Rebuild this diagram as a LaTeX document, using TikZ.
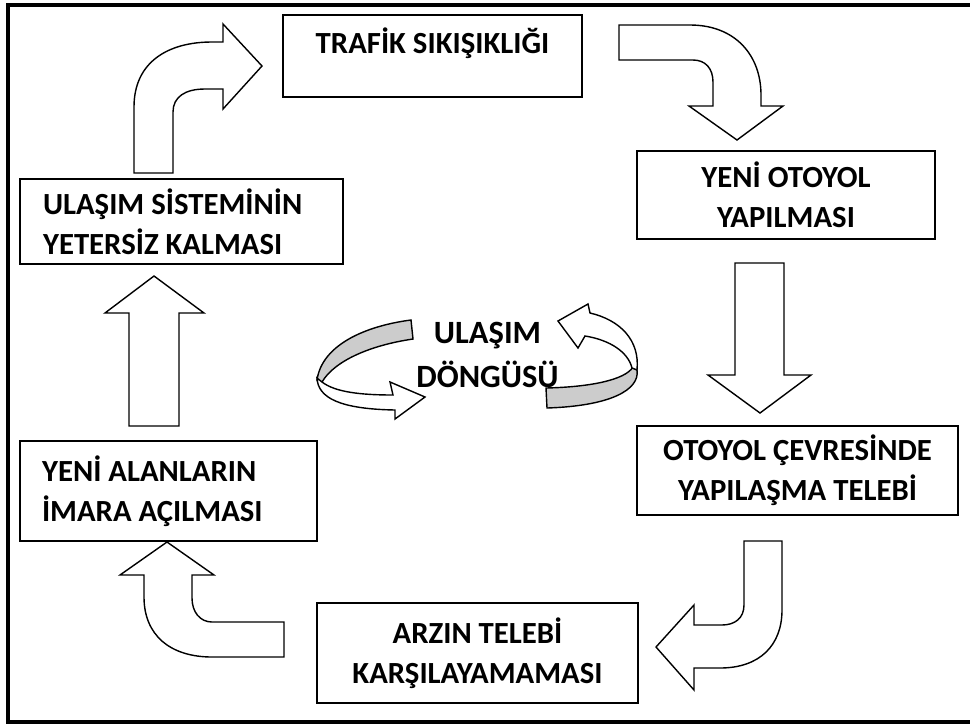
\documentclass[tikz,border=0pt]{standalone}
\usepackage{fontspec}
\setmainfont{Carlito}
\usetikzlibrary{calc}

\begin{document}
\begin{tikzpicture}[
    x=0.02cm, y=-0.02cm,
    box/.style={draw, line width=1.1pt, inner sep=0pt, font=\fontsize{17.5}{22.7}\selectfont\bfseries}, % Style for the text boxes
    bigarrow/.style={draw, fill=white, line width=0.8pt, line join=miter}, % Style for block arrows
    band/.style={draw, fill=black!20, line width=0.8pt} % Grey back side of the ribbons
]
\useasboundingbox (0,0) rectangle (970,724);

% Outer frame
\draw[line width=1.8pt] (8,5) rectangle (990,722);

% Boxes
\node[box, minimum width=5.98cm, minimum height=1.64cm, align=center, text height=12pt, text depth=15pt] (trafik) at (432.5,56) {TRAFİK SIKIŞIKLIĞI};
\node[box, minimum width=5.96cm, minimum height=1.76cm, align=center] (otoyol) at (786,195) {YENİ OTOYOL\\YAPILMASI};
\node[box, minimum width=6.42cm, minimum height=1.78cm, align=center] (cevre) at (797.5,470.5) {OTOYOL ÇEVRESİNDE\\YAPILAŞMA TELEBİ};
\node[box, minimum width=6.42cm, minimum height=2cm, align=center] (arz) at (477.5,653) {ARZIN TELEBİ\\KARŞILAYAMAMASI};
\node[box, minimum width=5.94cm, minimum height=2cm, inner xsep=0.44cm, text width=5.06cm, align=flush left] (alan) at (168.5,491) {YENİ ALANLARIN\\İMARA AÇILMASI};
\node[box, minimum width=6.46cm, minimum height=1.7cm, inner xsep=0.46cm, text width=5.54cm, align=flush left] (ulasim) at (181.5,221.5) {ULAŞIM SİSTEMİNİN\\YETERSİZ KALMASI};

% Block arrows round the cycle
\draw[bigarrow] (134,173) -- (134,107) .. controls (134,62) and (168,42) .. (212,42) -- (223,42) -- (223,24) -- (262,66)
    -- (223,109) -- (223,89) -- (205,89) .. controls (185,89) and (173,97) .. (173,112) -- (173,173) -- cycle;
\draw[bigarrow] (619,25) -- (690,25) .. controls (735,25) and (761,55) .. (761,95) -- (761,106) -- (783,106) -- (737,140)
    -- (689,106) -- (713,106) -- (713,82) .. controls (713,68) and (705,60) .. (693,60) -- (619,60) -- cycle;
\draw[bigarrow] (735,263) -- (784,263) -- (784,375) -- (811,375) -- (760,413) -- (708,375) -- (735,375) -- cycle;
\draw[bigarrow] (744,541) -- (782,541) -- (782,610) .. controls (782,645) and (760,668) .. (720,668) -- (694,668) -- (694,690)
    -- (656,647) -- (694,605) -- (694,625) -- (722,625) .. controls (735,625) and (744,618) .. (744,605) -- cycle;
\draw[bigarrow] (284,622) -- (212,622) .. controls (200,622) and (192,612) .. (192,598) -- (192,575) -- (214,575) -- (167,542)
    -- (120,575) -- (144,575) -- (144,597) .. controls (144,635) and (170,657) .. (212,657) -- (284,657) -- cycle;
\draw[bigarrow] (129,426) -- (129,313) -- (105,313) -- (154,276) -- (204,313) -- (179,313) -- (179,426) -- cycle;

% Ribbon arrows in the middle
\draw[band] (411,320) .. controls (365,326) and (322,345) .. (317,380) -- (322,382) .. controls (335,360) and (372,345) .. (413,339) -- cycle;
\draw[bigarrow] (317,378) .. controls (318,398) and (340,409) .. (395,410) -- (395,419) -- (425,397) -- (390,382) -- (393,395)
    .. controls (360,395) and (335,392) .. (322,382) -- cycle;
\draw[band] (546,388) .. controls (590,387) and (625,380) .. (633,367) -- (637,370) .. controls (640,390) and (610,406) .. (547,408) -- cycle;
\draw[bigarrow] (637,370) .. controls (640,340) and (620,320) .. (590,313) -- (588,304) -- (558,321) -- (578,348) -- (585,336)
    .. controls (610,340) and (628,352) .. (632,368) -- cycle;

\node[font=\fontsize{18.5}{25.5}\selectfont\bfseries, align=center] (dongu) at (487.5,355) {ULAŞIM\\DÖNGÜSÜ};

\end{tikzpicture}
\end{document}
